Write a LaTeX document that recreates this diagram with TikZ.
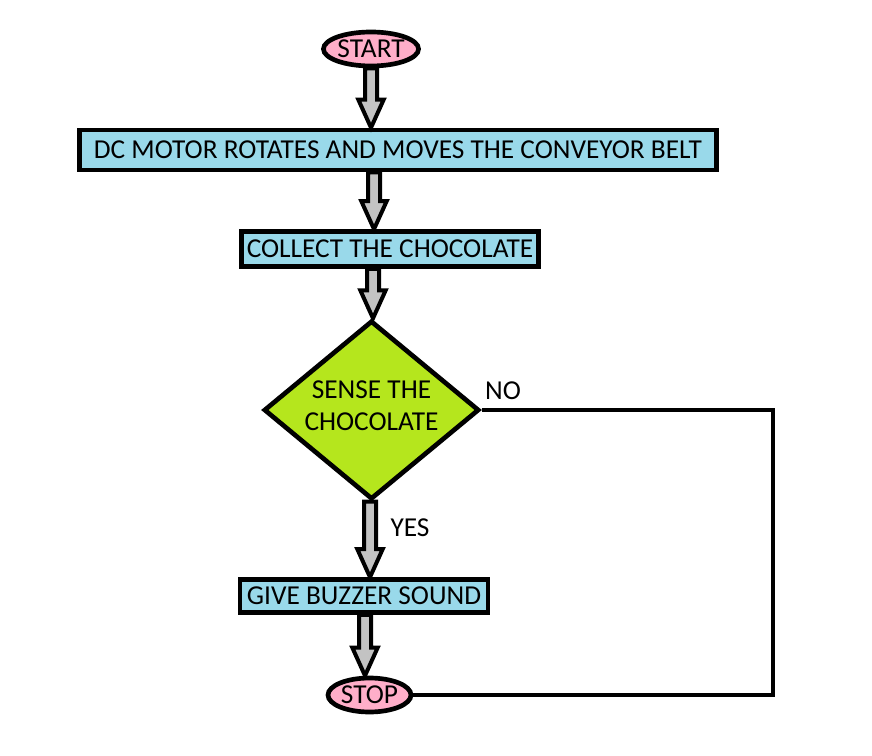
\documentclass[tikz,border=0pt]{standalone}
\usepackage{fontspec}
\setmainfont{Carlito}
\usetikzlibrary{shapes.geometric}

\definecolor{boxblue}{RGB}{153,217,234}
\definecolor{termpink}{RGB}{255,174,201}
\definecolor{testgreen}{RGB}{181,230,29}
\definecolor{arrowgray}{RGB}{195,195,195}

\begin{document}
\begin{tikzpicture}[x=.75pt,y=-.75pt,
    every node/.style={font=\fontsize{20.5}{24}\selectfont},
    flowbox/.style={draw,line width=3.5pt,fill=boxblue,inner sep=0pt},
    terminal/.style={draw,ellipse,line width=3.5pt,fill=termpink,inner sep=0pt,minimum height=25.5pt},
    test/.style={draw,diamond,line width=3.5pt,fill=testgreen,inner sep=-10pt,align=center,
      minimum width=161.5pt,minimum height=134pt,text depth=7pt},
    fatarrow/.style={draw,line width=3pt,fill=arrowgray,line join=miter},
    loopline/.style={line width=2.6pt}]

        \useasboundingbox (0,0) rectangle (872,756);

        \node[terminal,minimum width=70.5pt] (start) at (371,49) {START};
        \node[flowbox,minimum width=478pt,minimum height=30pt] (motor) at (398,150)
          {DC MOTOR ROTATES AND MOVES THE CONVEYOR BELT};
        \node[flowbox,minimum width=222.75pt,minimum height=26.25pt] (collect) at (390,249)
          {COLLECT THE CHOCOLATE};
        \node[test] (sense) at (371.5,410) {SENSE THE\\CHOCOLATE};
        \node[flowbox,minimum width=186pt,minimum height=24.75pt] (buzzer) at (364,596)
          {GIVE BUZZER SOUND};
        \node[terminal,minimum width=62.25pt] (stop) at (369.5,695) {STOP};

        \foreach \ax/\from/\to in {371/start/motor,374/motor/collect,373/collect/sense,
                                   370/sense/buzzer,365/buzzer/stop} {
          \coordinate (top) at (\ax,0 |- \from.south);
          \coordinate (tip) at (\ax,0 |- \to.north);
          \draw[fatarrow] ([xshift=-4.5pt]top) -- ([xshift=-4.5pt,yshift=21pt]tip)
            -- ([xshift=-9.5pt,yshift=21pt]tip) -- (tip) -- ([xshift=9.5pt,yshift=21pt]tip)
            -- ([xshift=4.5pt,yshift=21pt]tip) -- ([xshift=4.5pt]top) -- cycle;
        }

        \coordinate (loop) at (773,410);
        \draw[loopline] (sense.east) -- (loop) |- (stop.east);
        \node (no) at (503,391) {NO};
        \node (yes) at (410,528) {YES};
    \end{tikzpicture}
\end{document}
